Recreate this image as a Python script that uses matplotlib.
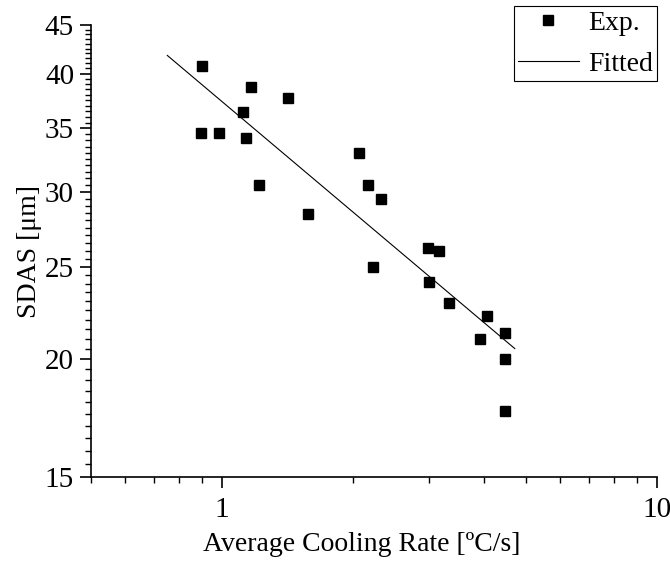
import matplotlib
matplotlib.use("Agg")
import matplotlib.pyplot as plt
from matplotlib.ticker import FixedLocator, NullFormatter, FixedFormatter, LogLocator
import numpy as np

plt.rcParams['font.family'] = ['Liberation Serif', 'DejaVu Serif']

# Experimental data
cooling_rate = [0.90, 1.168, 1.418, 1.121, 0.896, 0.984, 1.137, 1.218, 1.58,
                2.072, 2.166, 2.32, 2.232, 2.985, 3.16, 3.0, 3.33, 4.08, 3.93,
                4.49, 4.49, 4.49]
sdas = [40.7, 38.7, 37.7, 36.4, 34.6, 34.6, 34.2, 30.5, 28.4,
        33.0, 30.5, 29.5, 25.0, 26.2, 26.0, 24.1, 22.9, 22.2, 21.0,
        21.3, 20.0, 17.6]

# Fitted power-law line (end points)
fit_x = [0.75, 4.72]
fit_y = [41.8, 20.5]

y_major = [15, 20, 25, 30, 35, 40, 45]
x_major = [1, 10]
x_labels = ['1', '10']

fig = plt.figure(figsize=(6.7, 5.7), dpi=100)
ax = fig.add_axes([0.1354, 0.163, 0.8446, 0.793])

ax.plot(cooling_rate, sdas, linestyle='none', marker='s', markersize=7,
        color='black', label='Exp.')
ax.plot(fit_x, fit_y, color='black', linewidth=0.8, label='Fitted')

ax.set_xscale('log')
ax.set_yscale('log')
ax.set_xlim(0.5, 10)
ax.set_ylim(15, 45)

ax.xaxis.set_major_locator(FixedLocator(x_major))
ax.xaxis.set_major_formatter(FixedFormatter(x_labels))
ax.xaxis.set_minor_locator(LogLocator(base=10, subs=np.arange(2, 10)))
ax.xaxis.set_minor_formatter(NullFormatter())

ax.yaxis.set_major_locator(FixedLocator(y_major))
ax.yaxis.set_major_formatter(FixedFormatter([str(v) for v in y_major]))
ax.yaxis.set_minor_locator(FixedLocator([v for v in np.arange(15, 45.01, 0.5) if v % 5 != 0]))
ax.yaxis.set_minor_formatter(NullFormatter())

for s in ['top', 'right']:
    ax.spines[s].set_visible(False)
for s in ['left', 'bottom']:
    ax.spines[s].set_linewidth(1.2)

ax.tick_params(which='major', direction='out', length=8, width=1.2, labelsize=21, colors='black')
ax.tick_params(which='minor', direction='out', length=4, width=1.0)
ax.tick_params(axis='x', which='major', pad=6)
ax.tick_params(axis='y', which='major', pad=4)

ax.set_xlabel('Average Cooling Rate [ºC/s]', fontsize=20, labelpad=7)
ax.xaxis.label.set_x(0.479)
ax.set_ylabel('SDAS [μm]', fontsize=20, labelpad=2)

leg = ax.legend(loc='upper right', bbox_to_anchor=(0.9805, 0.9895),
                bbox_transform=fig.transFigure, fontsize=20,
                frameon=True, fancybox=False, framealpha=1,
                edgecolor='black', handlelength=2.2, handletextpad=0.32,
                borderpad=0.15, labelspacing=0.56, borderaxespad=0,
                handleheight=0.7)
leg.get_frame().set_linewidth(0.8)

fig.savefig('out.png', dpi=100)
